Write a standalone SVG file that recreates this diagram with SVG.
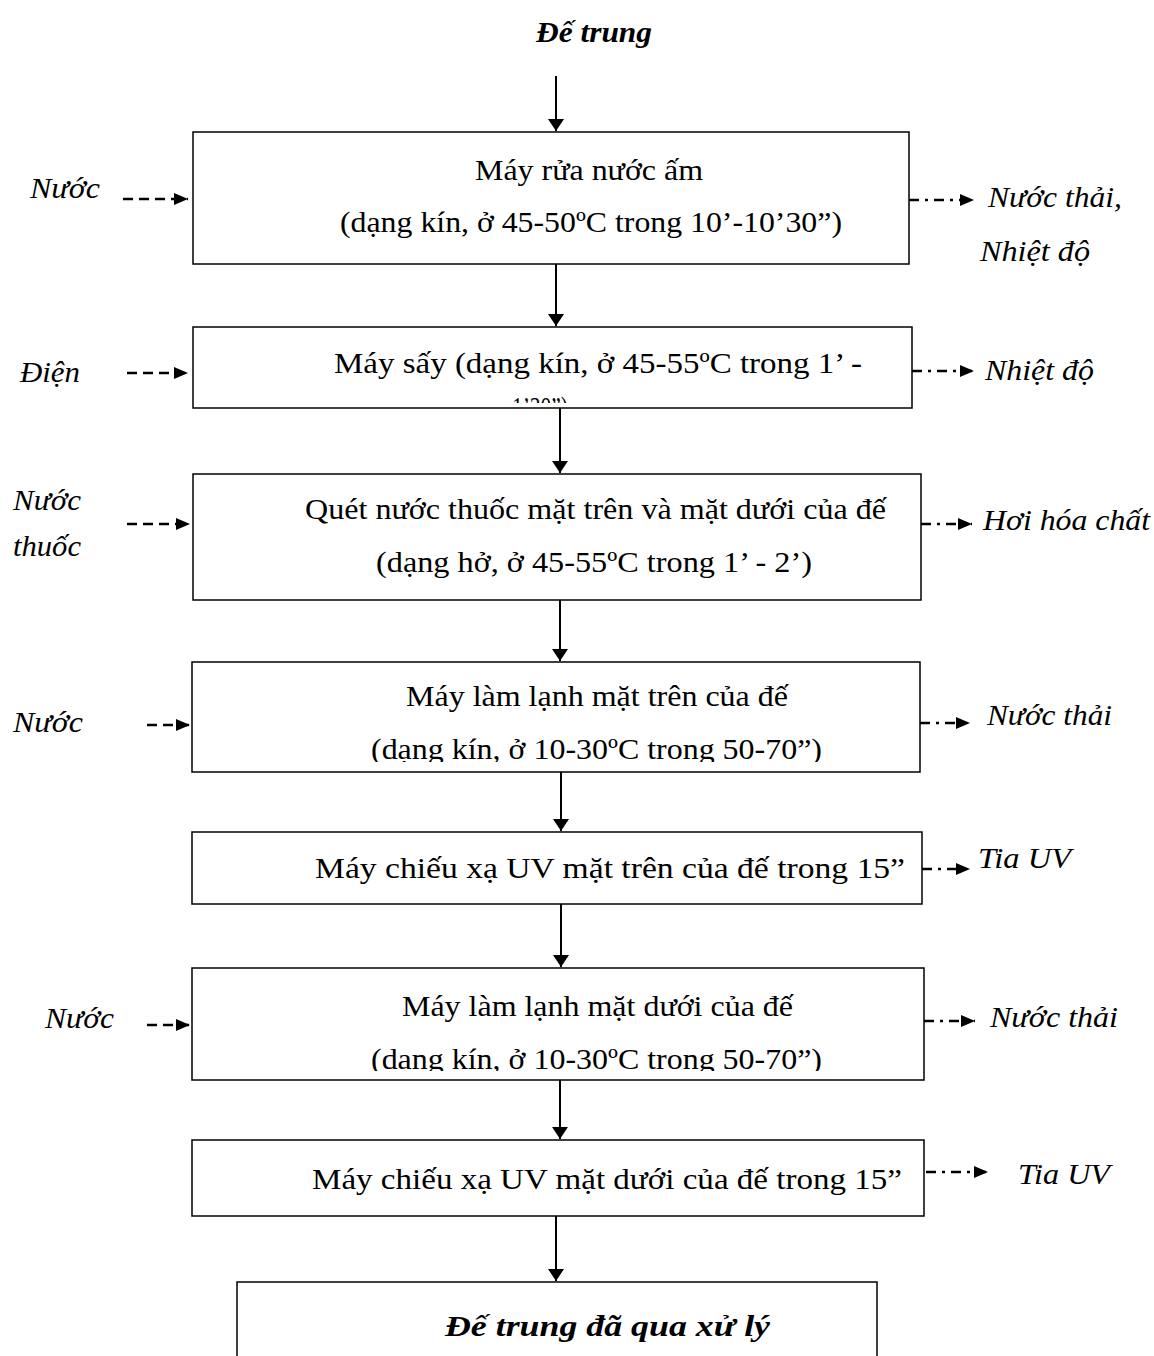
<svg xmlns="http://www.w3.org/2000/svg" width="1154" height="1356" viewBox="0 0 1154 1356">
  <style>
    .box { fill: #fff; stroke: #000; stroke-width: 1.5; }
    .t { font-family: "Liberation Serif", "Times New Roman", serif; font-size: 30px; fill: #000; }
    .lbl { font-family: "Liberation Serif", "Times New Roman", serif; font-size: 30px; font-style: italic; fill: #000; }
    .ttl { font-family: "Liberation Serif", "Times New Roman", serif; font-size: 30px; font-style: italic; font-weight: bold; fill: #000; }
    .flow { stroke: #000; stroke-width: 2; fill: none; marker-end: url(#headBig); }
    .inp { stroke: #000; stroke-width: 2.5; fill: none; stroke-dasharray: 10 6; marker-end: url(#headSmall); }
    .out { stroke: #000; stroke-width: 2.5; fill: none; stroke-dasharray: 10 6 3 6; marker-end: url(#headSmall); }
  </style>
  <defs>
    <marker id="headBig" viewBox="0 0 12 16" refX="12" refY="8" markerWidth="12" markerHeight="16" markerUnits="userSpaceOnUse" orient="auto">
      <path d="M0,0 L12,8 L0,16 Z" fill="#000"/>
    </marker>
    <marker id="headSmall" viewBox="0 0 14 12" refX="14" refY="6" markerWidth="14" markerHeight="12" markerUnits="userSpaceOnUse" orient="auto">
      <path d="M0,0 L14,6 L0,12 Z" fill="#000"/>
    </marker>
    <!-- text frames inside boxes whose last line overflows -->
    <clipPath id="clip2"><rect x="193" y="327" width="719" height="76"/></clipPath>
    <clipPath id="clip4"><rect x="192" y="662" width="728" height="100"/></clipPath>
    <clipPath id="clip6"><rect x="192" y="968" width="732" height="103"/></clipPath>
  </defs>

  <rect width="1154" height="1356" fill="#fff"/>

  <!-- start material -->
  <g id="start">
    <text class="ttl" x="536" y="42" textLength="116" lengthAdjust="spacingAndGlyphs">Đế trung</text>
  </g>

  <!-- process steps -->
  <g id="step1">
    <rect class="box" x="193" y="132" width="716" height="132"/>
    <text class="t" x="475" y="180" textLength="228" lengthAdjust="spacingAndGlyphs">Máy rửa nước ấm</text>
    <text class="t" x="340" y="232" textLength="502" lengthAdjust="spacingAndGlyphs">(dạng kín, ở 45-50ºC trong 10’-10’30”)</text>
  </g>

  <g id="step2">
    <rect class="box" x="193" y="327" width="719" height="81"/>
    <g clip-path="url(#clip2)">
      <text class="t" x="334" y="373" textLength="528" lengthAdjust="spacingAndGlyphs">Máy sấy (dạng kín, ở 45-55ºC trong 1’ -</text>
      <text class="t" x="512" y="417" textLength="56" lengthAdjust="spacingAndGlyphs">1’30”)</text>
    </g>
  </g>

  <g id="step3">
    <rect class="box" x="193" y="474" width="728" height="126"/>
    <text class="t" x="305" y="519" textLength="581" lengthAdjust="spacingAndGlyphs">Quét nước thuốc mặt trên và mặt dưới của đế</text>
    <text class="t" x="376" y="572" textLength="436" lengthAdjust="spacingAndGlyphs">(dạng hở, ở 45-55ºC trong 1’ - 2’)</text>
  </g>

  <g id="step4">
    <rect class="box" x="192" y="662" width="728" height="110"/>
    <g clip-path="url(#clip4)">
      <text class="t" x="406" y="706" textLength="382" lengthAdjust="spacingAndGlyphs">Máy làm lạnh mặt trên của đế</text>
      <text class="t" x="371" y="759" textLength="451" lengthAdjust="spacingAndGlyphs">(dạng kín, ở 10-30ºC trong 50-70”)</text>
    </g>
  </g>

  <g id="step5">
    <rect class="box" x="192" y="832" width="730" height="72"/>
    <text class="t" x="315" y="878" textLength="590" lengthAdjust="spacingAndGlyphs">Máy chiếu xạ UV mặt trên của đế trong 15”</text>
  </g>

  <g id="step6">
    <rect class="box" x="192" y="968" width="732" height="112"/>
    <g clip-path="url(#clip6)">
      <text class="t" x="402" y="1016" textLength="391" lengthAdjust="spacingAndGlyphs">Máy làm lạnh mặt dưới của đế</text>
      <text class="t" x="371" y="1069" textLength="451" lengthAdjust="spacingAndGlyphs">(dạng kín, ở 10-30ºC trong 50-70”)</text>
    </g>
  </g>

  <g id="step7">
    <rect class="box" x="192" y="1140" width="732" height="76"/>
    <text class="t" x="312" y="1189" textLength="590" lengthAdjust="spacingAndGlyphs">Máy chiếu xạ UV mặt dưới của đế trong 15”</text>
  </g>

  <g id="result">
    <rect class="box" x="237" y="1282" width="640" height="90"/>
    <text class="ttl" x="445" y="1336" textLength="325" lengthAdjust="spacingAndGlyphs">Đế trung đã qua xử lý</text>
  </g>

  <!-- inputs (left) -->
  <g id="inputs">
    <text class="lbl" x="30" y="198" textLength="70" lengthAdjust="spacingAndGlyphs">Nước</text>
    <text class="lbl" x="20" y="382" textLength="60" lengthAdjust="spacingAndGlyphs">Điện</text>
    <text class="lbl" x="13" y="510" textLength="68" lengthAdjust="spacingAndGlyphs">Nước</text>
    <text class="lbl" x="13" y="556" textLength="68" lengthAdjust="spacingAndGlyphs">thuốc</text>
    <text class="lbl" x="13" y="732" textLength="70" lengthAdjust="spacingAndGlyphs">Nước</text>
    <text class="lbl" x="45" y="1028" textLength="69" lengthAdjust="spacingAndGlyphs">Nước</text>
  </g>

  <!-- outputs (right) -->
  <g id="outputs">
    <text class="lbl" x="988" y="207" textLength="134" lengthAdjust="spacingAndGlyphs">Nước thải,</text>
    <text class="lbl" x="980" y="261" textLength="110" lengthAdjust="spacingAndGlyphs">Nhiệt độ</text>
    <text class="lbl" x="985" y="380" textLength="109" lengthAdjust="spacingAndGlyphs">Nhiệt độ</text>
    <text class="lbl" x="983" y="530" textLength="167" lengthAdjust="spacingAndGlyphs">Hơi hóa chất</text>
    <text class="lbl" x="987" y="725" textLength="125" lengthAdjust="spacingAndGlyphs">Nước thải</text>
    <text class="lbl" x="978" y="868" textLength="93" lengthAdjust="spacingAndGlyphs">Tia UV</text>
    <text class="lbl" x="990" y="1027" textLength="128" lengthAdjust="spacingAndGlyphs">Nước thải</text>
    <text class="lbl" x="1018" y="1184" textLength="92" lengthAdjust="spacingAndGlyphs">Tia UV</text>
  </g>

  <!-- connectors -->
  <g id="connectors">
    <line class="flow" x1="556" y1="76" x2="556" y2="131"/>
    <line class="flow" x1="556" y1="264" x2="556" y2="326"/>
    <line class="flow" x1="560" y1="408" x2="560" y2="473"/>
    <line class="flow" x1="560" y1="600" x2="560" y2="661"/>
    <line class="flow" x1="561" y1="772" x2="561" y2="831"/>
    <line class="flow" x1="561" y1="904" x2="561" y2="967"/>
    <line class="flow" x1="560" y1="1080" x2="560" y2="1139"/>
    <line class="flow" x1="556" y1="1216" x2="556" y2="1281"/>

    <line class="inp" x1="123" y1="199" x2="188" y2="199"/>
    <line class="inp" x1="127" y1="373" x2="188" y2="373"/>
    <line class="inp" x1="127" y1="524" x2="190" y2="524"/>
    <line class="inp" x1="147" y1="725" x2="190" y2="725"/>
    <line class="inp" x1="147" y1="1025" x2="190" y2="1025"/>

    <line class="out" x1="909" y1="200" x2="974" y2="200"/>
    <line class="out" x1="912" y1="371" x2="974" y2="371"/>
    <line class="out" x1="921" y1="524" x2="972" y2="524"/>
    <line class="out" x1="920" y1="723" x2="970" y2="723"/>
    <line class="out" x1="922" y1="869" x2="970" y2="869"/>
    <line class="out" x1="924" y1="1021" x2="975" y2="1021"/>
    <line class="out" x1="926" y1="1172" x2="988" y2="1172"/>
  </g>
</svg>
